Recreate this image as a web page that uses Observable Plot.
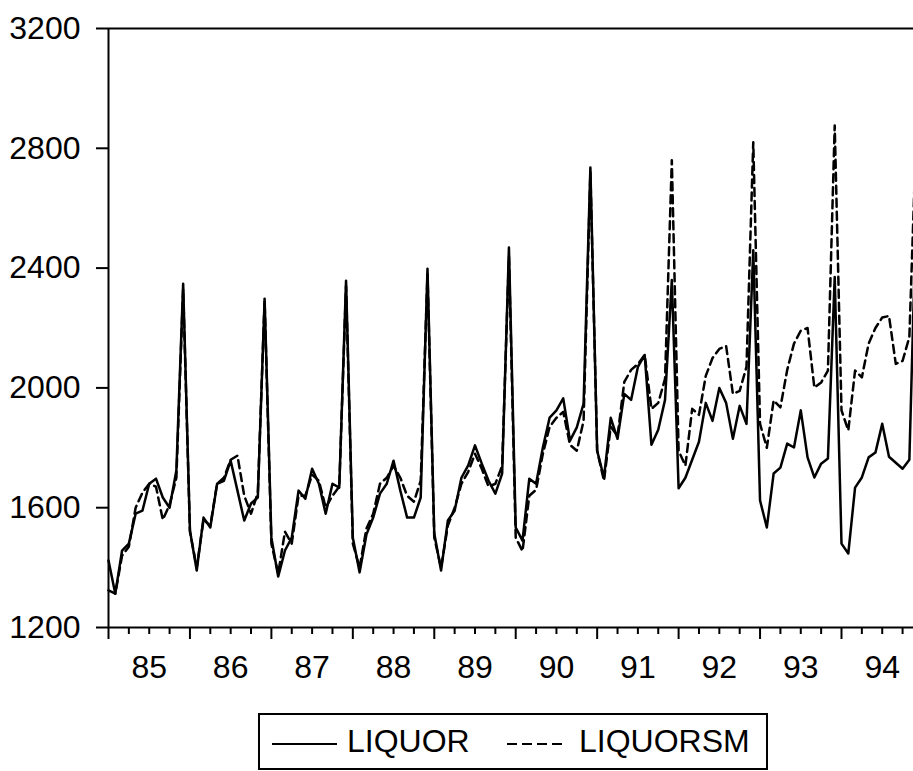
<!DOCTYPE html>
<html>
<head>
<meta charset="utf-8">
<script src="https://cdn.jsdelivr.net/npm/d3@7"></script>
<script src="https://cdn.jsdelivr.net/npm/@observablehq/plot@0.6"></script>
<style>
  html, body { margin: 0; padding: 0; background: white; overflow: hidden; }
  #chart svg { overflow: hidden; }
  #legend { position: relative; margin-left: 258px; margin-top: 8px; width: 506px; height: 53px;
            border: 2px solid black; font-family: "Liberation Sans", Arial, sans-serif; font-size: 32px; color: black; }
  #legend .item { position: absolute; top: 0; height: 53px; line-height: 53px; white-space: nowrap; }
  #legend svg { position: absolute; top: 0; }
</style>
</head>
<body>
<div id="chart"></div>
<div id="legend"></div>
<script>
// Year labels on the x axis (monthly data Jan 1985 – Dec 1994)
const yearLabels = ["85", "86", "87", "88", "89", "90", "91", "92", "93", "94"];
const yTicks = [1200, 1600, 2000, 2400, 2800, 3200];

// LIQUOR (solid), monthly
const liquor = [
  1424, 1313, 1457, 1480, 1580, 1590, 1680, 1697, 1634, 1600, 1724, 2348,
  1524, 1390, 1567, 1534, 1680, 1690, 1757, 1657, 1557, 1614, 1634, 2298,
  1500, 1370, 1457, 1500, 1657, 1630, 1730, 1680, 1580, 1680, 1667, 2358,
  1500, 1384, 1510, 1567, 1647, 1680, 1757, 1657, 1567, 1567, 1634, 2398,
  1514, 1390, 1557, 1590, 1700, 1741, 1808, 1747, 1690, 1647, 1714, 2469,
  1534, 1490, 1697, 1680, 1801, 1901, 1925, 1965, 1824, 1868, 1948, 2736,
  1790, 1700, 1900, 1830, 1980, 1960, 2070, 2110, 1810, 1860, 1960, 2360,
  1665, 1700, 1760, 1820, 1950, 1890, 2000, 1950, 1830, 1940, 1880, 2460,
  1624, 1534, 1714, 1734, 1814, 1801, 1925, 1768, 1701, 1747, 1764, 2370,
  1480, 1447, 1667, 1701, 1768, 1784, 1880, 1770, 1750, 1730, 1760, 2600
];

// LIQUORSM (dashed), monthly
const liquorsm = [
  1324, 1313, 1440, 1470, 1600, 1650, 1680, 1670, 1560, 1610, 1700, 2330,
  1520, 1400, 1560, 1540, 1680, 1700, 1760, 1774, 1640, 1580, 1650, 2290,
  1480, 1380, 1520, 1480, 1640, 1640, 1710, 1690, 1600, 1640, 1670, 2340,
  1480, 1400, 1530, 1580, 1680, 1700, 1740, 1700, 1640, 1620, 1690, 2380,
  1500, 1400, 1540, 1600, 1680, 1720, 1780, 1730, 1670, 1680, 1740, 2440,
  1500, 1455, 1640, 1660, 1780, 1870, 1900, 1920, 1810, 1790, 1890, 2720,
  1790, 1690, 1870, 1840, 2020, 2060, 2080, 2110, 1930, 1950, 2030, 2760,
  1790, 1740, 1930, 1910, 2040, 2100, 2130, 2140, 1980, 1990, 2070, 2820,
  1880, 1800, 1958, 1935, 2060, 2148, 2191, 2200, 2001, 2018, 2058, 2876,
  1925, 1858, 2058, 2035, 2148, 2200, 2235, 2240, 2080, 2090, 2170, 2850
];

const data = liquor.map((v, i) => ({t: i, liquor: v, liquorsm: liquorsm[i]}));
const n = data.length;

const yearTicks = yearLabels.map((_, k) => k * 12);
const quarterTicks = d3.range(0, n).filter(t => t % 3 === 0 && t % 12 !== 0);
const labelTicks = yearLabels.map((_, k) => k * 12 + 6);

const W = 913, H = 705;
const FONT = "'Liberation Sans', Arial, sans-serif";

const chart = Plot.plot({
  width: W,
  height: H,
  marginLeft: 108,
  marginRight: 0,
  marginTop: 28,
  marginBottom: 78,
  style: {fontFamily: FONT, fontSize: "32px", color: "black", background: "white", overflow: "hidden"},
  x: {type: "linear", domain: [0, n - 1], range: [108, 108 + (n - 1) * 6.787]},
  y: {domain: [1200, 3200]},
  marks: [
    Plot.axisY({ticks: yTicks, tickSize: 12, tickPadding: 16, tickFormat: d3.format("d"),
                label: null, fontSize: 32, strokeWidth: 2}),
    Plot.axisX({ticks: yearTicks, tickSize: 12, tickFormat: () => "", label: null, strokeWidth: 2}),
    Plot.axisX({ticks: quarterTicks, tickSize: 7, tickFormat: () => "", label: null, strokeWidth: 2}),
    Plot.axisX({ticks: labelTicks, tickSize: 0, tickPadding: 28, label: null, fontSize: 32,
                tickFormat: t => yearLabels[(t - 6) / 12]}),
    Plot.line(data, {x: "t", y: "liquorsm", stroke: "black", strokeWidth: 2.5, strokeDasharray: "8,5"}),
    Plot.line(data, {x: "t", y: "liquor", stroke: "black", strokeWidth: 2.5}),
    Plot.ruleY([1200, 3200], {stroke: "black", strokeWidth: 2}),
    Plot.ruleX([0], {stroke: "black", strokeWidth: 2})
  ]
});
document.getElementById("chart").appendChild(chart);

// Legend (below the plot)
const legendItems = [
  {label: "LIQUOR", dash: null, sx: 12, tx: 87},
  {label: "LIQUORSM", dash: "10,5", sx: 247, tx: 319}
];
const legend = document.getElementById("legend");
legendItems.forEach(it => {
  const s = document.createElementNS("http://www.w3.org/2000/svg", "svg");
  s.setAttribute("width", 65); s.setAttribute("height", 53);
  s.style.left = it.sx + "px";
  const ln = document.createElementNS("http://www.w3.org/2000/svg", "line");
  ln.setAttribute("x1", 0); ln.setAttribute("x2", it.dash ? 60 : 65);
  ln.setAttribute("y1", 29); ln.setAttribute("y2", 29);
  ln.setAttribute("stroke", "black"); ln.setAttribute("stroke-width", 2);
  if (it.dash) ln.setAttribute("stroke-dasharray", it.dash);
  s.appendChild(ln);
  legend.appendChild(s);
  const t = document.createElement("span");
  t.className = "item";
  t.style.left = it.tx + "px";
  t.textContent = it.label;
  legend.appendChild(t);
});
</script>
</body>
</html>
